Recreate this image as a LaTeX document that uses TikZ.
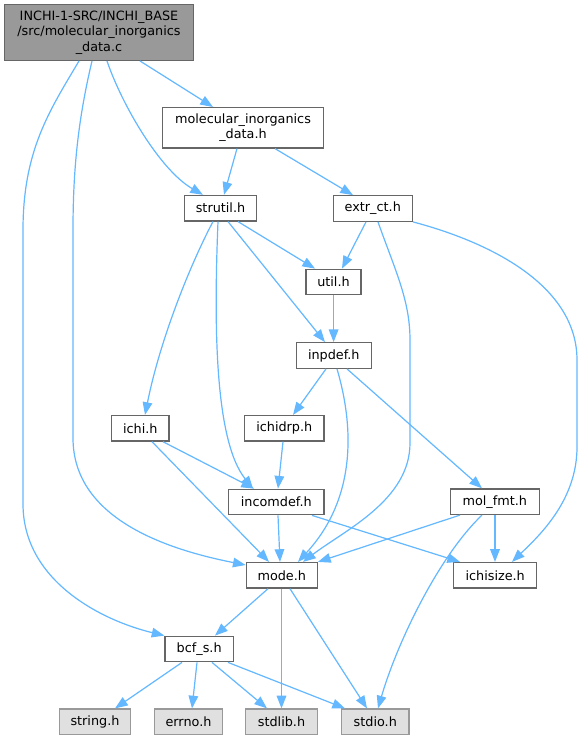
\documentclass[tikz,border=0pt]{standalone}
\usepackage{fontspec}
\setmainfont{DejaVu Sans}
\usetikzlibrary{arrows.meta}
\definecolor{edgec}{HTML}{63B8FF}
\definecolor{nodeborder}{HTML}{666666}
\definecolor{mainfill}{HTML}{999999}
\definecolor{extfill}{HTML}{E0E0E0}
\definecolor{extborder}{HTML}{999999}
\tikzset{
  box/.style={draw=nodeborder, fill=white, line width=1pt, inner sep=0pt,
    minimum height=19.1pt, align=center,
    font=\fontsize{9.6pt}{11.6pt}\selectfont},
  mainbox/.style={box, fill=mainfill},
  extbox/.style={box, fill=extfill, draw=extborder},
  wd/.style={minimum width=#1},
  edge/.style={draw=edgec, line width=0.9pt,
    -{Triangle[length=9.5pt, width=7.2pt]}},
}
\begin{document}
\begin{tikzpicture}[x=0.75pt, y=-0.75pt]
\useasboundingbox (0,0) rectangle (583,740);
\fill[white] (0,0) rectangle (583,740);

% nodes
\node[mainbox, wd=141.45pt, minimum height=41.7pt] (main) at (99,32.5)
  {INCHI-1-SRC/INCHI\_BASE\\/src/molecular\_inorganics\\\_data.c};
\node[box, wd=121.05pt, minimum height=30.2pt] (moli) at (243,127.8)
  {molecular\_inorganics\\\_data.h};
\node[box, wd=54.3pt] (strutil) at (220.5,208.2) {strutil.h};
\node[box, wd=59.25pt] (extr) at (372.8,208.5) {extr\_ct.h};
\node[box, wd=41.25pt] (util) at (333.5,282) {util.h};
\node[box, wd=56.25pt] (inpdef) at (333.8,355.5) {inpdef.h};
\node[box, wd=43pt] (ichi) at (140.3,428.3) {ichi.h};
\node[box, wd=59.5pt] (ichidrp) at (284.3,428.3) {ichidrp.h};
\node[box, wd=71.5pt] (incomdef) at (276.3,502) {incomdef.h};
\node[box, wd=66.75pt] (molfmt) at (494.8,501.7) {mol\_fmt.h};
\node[box, wd=53.25pt] (mode) at (281.8,575.3) {mode.h};
\node[box, wd=62.25pt] (ichisize) at (495.2,575.3) {ichisize.h};
\node[box, wd=51.2pt] (bcf) at (199.2,649) {bcf\_s.h};
\node[extbox, wd=53.55pt] (string) at (95,721.8) {string.h};
\node[extbox, wd=51.3pt] (errno) at (188.5,721.8) {errno.h};
\node[extbox, wd=53.7pt] (stdlib) at (281.5,721.8) {stdlib.h};
\node[extbox, wd=50.5pt] (stdio) at (375.3,721.8) {stdio.h};

% edges
\draw[edge] (140,0 |- main.south) -- (213,0 |- moli.north);
\draw[edge] (107,0 |- main.south) .. controls (122,105) and (160,170) .. (203,0 |- strutil.north);
\draw[edge] (92,0 |- main.south) .. controls (78,120) and (73,170) .. (73,230) -- (73,438)
  .. controls (73,520) and (170,550) .. (mode.west |- 0,565);
\draw[edge] (79,0 |- main.south) .. controls (50,110) and (23,150) .. (23,230) -- (23,504)
  .. controls (23,580) and (100,620) .. (bcf.north west);
\draw[edge] (237,0 |- moli.south) -- (224,0 |- strutil.north);
\draw[edge] (275,0 |- moli.south) -- (353,0 |- extr.north);
\draw[edge] (238,0 |- strutil.south) -- (315,0 |- util.north);
\draw[edge] (228,0 |- strutil.south) -- (325,0 |- inpdef.north);
\draw[edge] (213,0 |- strutil.south) .. controls (190,265) and (160,340) .. (145,0 |- ichi.north);
\draw[edge] (218,0 |- strutil.south) .. controls (214,320) and (214,440) .. (253,0 |- incomdef.north);
\draw[edge] (366,0 |- extr.south) -- (342,0 |- util.north);
\draw[edge] (378,0 |- extr.south) .. controls (395,270) and (410,300) .. (410,340) -- (410,443)
  .. controls (410,500) and (345,530) .. (303,0 |- mode.north);
\draw[edge] (extr.south east) .. controls (500,245) and (577,290) .. (577,360) -- (577,447)
  .. controls (577,500) and (540,535) .. (512,0 |- ichisize.north);
\draw[edge] (333.6,0 |- util.south) -- (333.6,0 |- inpdef.north);
\draw[edge] (326,0 |- inpdef.south) -- (293,0 |- ichidrp.north);
\draw[edge] (337,0 |- inpdef.south) .. controls (355,430) and (355,500) .. (298,0 |- mode.north);
\draw[edge] (347,0 |- inpdef.south) -- (482,0 |- molfmt.north);
\draw[edge] (283,0 |- ichidrp.south) -- (278,0 |- incomdef.north);
\draw[edge] (163,0 |- ichi.south) -- (254,0 |- incomdef.north);
\draw[edge] (152,0 |- ichi.south) -- (269,0 |- mode.north);
\draw[edge] (278,0 |- incomdef.south) -- (280,0 |- mode.north);
\draw[edge] (312,0 |- incomdef.south) -- (460,0 |- ichisize.north);
\draw[edge] (460,0 |- molfmt.south) -- (mode.north east);
\draw[edge] (495,0 |- molfmt.south) -- (495,0 |- ichisize.north);
\draw[edge] (482,0 |- molfmt.south) .. controls (440,555) and (398,640) .. (378,0 |- stdio.north);
\draw[edge] (268,0 |- mode.south) -- (215,0 |- bcf.north);
\draw[edge] (281.5,0 |- mode.south) -- (281.5,0 |- stdlib.north);
\draw[edge] (290,0 |- mode.south) -- (367,0 |- stdio.north);
\draw[edge] (182,0 |- bcf.south) -- (115,0 |- string.north);
\draw[edge] (197,0 |- bcf.south) -- (192,0 |- errno.north);
\draw[edge] (212,0 |- bcf.south) -- (267,0 |- stdlib.north);
\draw[edge] (228,0 |- bcf.south) -- (345,0 |- stdio.north);
\end{tikzpicture}
\end{document}
